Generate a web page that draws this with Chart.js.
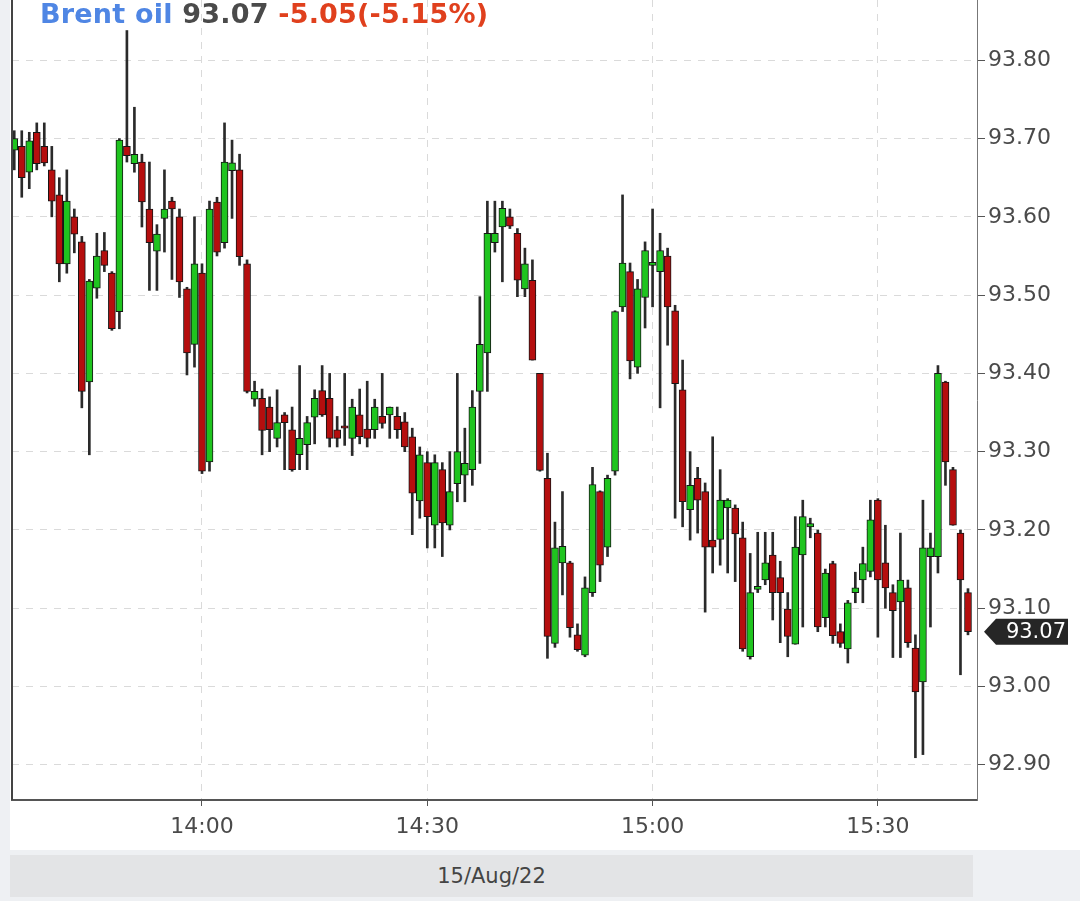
<!DOCTYPE html>
<html>
<head>
<meta charset="utf-8">
<script src="https://cdn.jsdelivr.net/npm/chart.js@4.4.1/dist/chart.umd.min.js"></script>
<style>
body { margin: 0; width: 1080px; height: 901px; overflow: hidden; position: relative; background: #eef0f3; font-family: "DejaVu Sans", sans-serif; }
#painel { position: absolute; left: 0; top: 0; width: 1080px; height: 850px; background: linear-gradient(to right, #eef0f3 10px, #ffffff 10px); }
#titulo { position: absolute; left: 40px; top: -2px; font-size: 27px; font-weight: bold; white-space: nowrap; letter-spacing: 0.2px; }
#rodape { position: absolute; left: 10px; top: 855px; width: 963px; height: 42px; background: #e3e4e6; color: #444; font-size: 21px; line-height: 42px; text-align: center; }
</style>
</head>
<body>
<div id="painel"><canvas id="grafico" width="1080" height="850"></canvas></div>
<div id="titulo"><span style="color:#4f86e4">Brent oil</span> <span style="color:#4a4a4a">93.07</span> <span style="color:#e0401d">-5.05(-5.15%)</span></div>
<div id="rodape">15/Aug/22</div>
<script>
var Horarios = [
    '13:35','13:36','13:37','13:38','13:39','13:40','13:41','13:42','13:43','13:44',
    '13:45','13:46','13:47','13:48','13:49','13:50','13:51','13:52','13:53','13:54',
    '13:55','13:56','13:57','13:58','13:59','14:00','14:01','14:02','14:03','14:04',
    '14:05','14:06','14:07','14:08','14:09','14:10','14:11','14:12','14:13','14:14',
    '14:15','14:16','14:17','14:18','14:19','14:20','14:21','14:22','14:23','14:24',
    '14:25','14:26','14:27','14:28','14:29','14:30','14:31','14:32','14:33','14:34',
    '14:35','14:36','14:37','14:38','14:39','14:40','14:41','14:42','14:43','14:44',
    '14:45','14:46','14:47','14:48','14:49','14:50','14:51','14:52','14:53','14:54',
    '14:55','14:56','14:57','14:58','14:59','15:00','15:01','15:02','15:03','15:04',
    '15:05','15:06','15:07','15:08','15:09','15:10','15:11','15:12','15:13','15:14',
    '15:15','15:16','15:17','15:18','15:19','15:20','15:21','15:22','15:23','15:24',
    '15:25','15:26','15:27','15:28','15:29','15:30','15:31','15:32','15:33','15:34',
    '15:35','15:36','15:37','15:38','15:39','15:40','15:41','15:42'
];

var Abertura = [
    93.685, 93.69, 93.657, 93.708, 93.69, 93.66, 93.628, 93.54, 93.60, 93.568,
    93.389, 93.509, 93.557, 93.528, 93.479, 93.69, 93.668, 93.67, 93.61, 93.556,
    93.598, 93.62, 93.60, 93.508, 93.437, 93.528, 93.287, 93.619, 93.567, 93.659,
    93.66, 93.54, 93.367, 93.368, 93.357, 93.317, 93.347, 93.328, 93.296, 93.309,
    93.344, 93.378, 93.368, 93.328, 93.333, 93.317, 93.347, 93.329, 93.328, 93.345,
    93.347, 93.345, 93.338, 93.319, 93.237, 93.286, 93.206, 93.277, 93.206, 93.259,
    93.27, 93.277, 93.377, 93.426, 93.567, 93.587, 93.60, 93.579, 93.508, 93.519,
    93.40, 93.266, 93.055, 93.158, 93.158, 93.066, 93.04, 93.12, 93.249, 93.178,
    93.275, 93.485, 93.53, 93.408, 93.497, 93.538, 93.53, 93.55, 93.48, 93.379,
    93.226, 93.266, 93.249, 93.187, 93.188, 93.228, 93.228, 93.19, 93.038, 93.124,
    93.136, 93.168, 93.139, 93.099, 93.054, 93.168, 93.204, 93.196, 93.088, 93.157,
    93.07, 93.048, 93.12, 93.136, 93.147, 93.238, 93.158, 93.12, 93.108, 93.126,
    93.049, 93.006, 93.166, 93.166, 93.389, 93.277, 93.196, 93.12
];

var Maxima = [
    93.71, 93.71, 93.708, 93.72, 93.72, 93.69, 93.65, 93.66, 93.61, 93.575,
    93.52, 93.579, 93.58, 93.53, 93.70, 93.838, 93.74, 93.68, 93.67, 93.59,
    93.66, 93.625, 93.61, 93.51, 93.60, 93.54, 93.62, 93.625, 93.72, 93.698,
    93.68, 93.545, 93.39, 93.38, 93.37, 93.379, 93.35, 93.357, 93.41, 93.345,
    93.379, 93.41, 93.40, 93.345, 93.40, 93.367, 93.38, 93.39, 93.367, 93.40,
    93.357, 93.357, 93.35, 93.33, 93.306, 93.30, 93.296, 93.286, 93.30, 93.40,
    93.33, 93.378, 93.498, 93.62, 93.62, 93.62, 93.61, 93.585, 93.56, 93.545,
    93.40, 93.298, 93.21, 93.249, 93.16, 93.08, 93.14, 93.28, 93.25, 93.27,
    93.48, 93.628, 93.541, 93.52, 93.568, 93.61, 93.579, 93.56, 93.487, 93.417,
    93.30, 93.28, 93.26, 93.319, 93.277, 93.24, 93.232, 93.21, 93.17, 93.197,
    93.197, 93.197, 93.16, 93.12, 93.217, 93.238, 93.215, 93.20, 93.15, 93.16,
    93.08, 93.11, 93.146, 93.178, 93.238, 93.24, 93.206, 93.13, 93.196, 93.136,
    93.066, 93.238, 93.196, 93.41, 93.39, 93.28, 93.20, 93.125
];

var Minima = [
    93.66, 93.625, 93.636, 93.66, 93.665, 93.60, 93.517, 93.528, 93.554, 93.356,
    93.296, 93.496, 93.53, 93.455, 93.457, 93.67, 93.657, 93.587, 93.506, 93.506,
    93.555, 93.52, 93.497, 93.398, 93.408, 93.272, 93.275, 93.55, 93.56, 93.598,
    93.538, 93.375, 93.358, 93.296, 93.30, 93.306, 93.277, 93.275, 93.277, 93.277,
    93.31, 93.345, 93.306, 93.306, 93.308, 93.295, 93.31, 93.306, 93.317, 93.33,
    93.317, 93.317, 93.30, 93.194, 93.215, 93.177, 93.177, 93.166, 93.20, 93.236,
    93.236, 93.257, 93.285, 93.377, 93.555, 93.517, 93.585, 93.498, 93.498, 93.417,
    93.275, 93.036, 93.05, 93.117, 93.063, 93.045, 93.038, 93.115, 93.134, 93.166,
    93.27, 93.479, 93.393, 93.40, 93.458, 93.485, 93.356, 93.436, 93.215, 93.204,
    93.187, 93.196, 93.095, 93.145, 93.155, 93.145, 93.134, 93.045, 93.035, 93.12,
    93.13, 93.085, 93.056, 93.038, 93.054, 93.076, 93.19, 93.07, 93.076, 93.055,
    93.05, 93.03, 93.107, 93.107, 93.14, 93.063, 93.10, 93.037, 93.037, 93.05,
    92.909, 92.913, 93.076, 93.145, 93.257, 93.206, 93.015, 93.066
];

var Fechamento = [
    93.70, 93.65, 93.697, 93.668, 93.669, 93.62, 93.54, 93.62, 93.578, 93.377,
    93.518, 93.55, 93.538, 93.457, 93.698, 93.678, 93.68, 93.619, 93.567, 93.578,
    93.61, 93.61, 93.517, 93.426, 93.54, 93.275, 93.61, 93.555, 93.67, 93.669,
    93.549, 93.377, 93.377, 93.327, 93.328, 93.337, 93.337, 93.277, 93.317, 93.337,
    93.368, 93.347, 93.317, 93.317, 93.33, 93.357, 93.319, 93.317, 93.357, 93.336,
    93.357, 93.328, 93.306, 93.247, 93.296, 93.217, 93.286, 93.209, 93.249, 93.30,
    93.285, 93.357, 93.437, 93.579, 93.579, 93.611, 93.588, 93.519, 93.54, 93.417,
    93.276, 93.064, 93.177, 93.179, 93.075, 93.047, 93.126, 93.258, 93.155, 93.266,
    93.479, 93.541, 93.416, 93.508, 93.557, 93.542, 93.557, 93.485, 93.387, 93.236,
    93.257, 93.238, 93.178, 93.178, 93.238, 93.238, 93.195, 93.048, 93.12, 93.128,
    93.158, 93.12, 93.12, 93.064, 93.178, 93.217, 93.208, 93.076, 93.145, 93.065,
    93.055, 93.107, 93.126, 93.157, 93.213, 93.136, 93.126, 93.097, 93.136, 93.056,
    92.993, 93.177, 93.177, 93.40, 93.287, 93.206, 93.136, 93.07
];

var TicksPreco = [92.90, 93.00, 93.10, 93.20, 93.30, 93.40, 93.50, 93.60, 93.70, 93.80];
var TicksHora = ['14:00', '14:30', '15:00', '15:30'];
var UltimoPreco = 93.07;

var CorAlta = '#1fc41f';
var CorBaixa = '#b50e0e';
var FonteEixo = { family: 'DejaVu Sans', size: 22 };

// minutos contados a partir das 14:00
function Minutos(h) {
    var p = h.split(':');
    return parseInt(p[0]) * 60 + parseInt(p[1]) - 14 * 60;
}

function FormatarHora(v) {
    var t = 14 * 60 + v;
    var m = t % 60;
    return Math.floor(t / 60) + ':' + (m < 10 ? '0' + m : m);
}

var Pavios = [];
var Corpos = [];
var Cores = [];
for (var i = 0; i < Horarios.length; i++) {
    Pavios[i] = { x: Minutos(Horarios[i]), y: [Minima[i], Maxima[i]] };
    Corpos[i] = { x: Minutos(Horarios[i]), y: [Abertura[i], Fechamento[i]] };
    Cores[i] = Fechamento[i] >= Abertura[i] ? CorAlta : CorBaixa;
}

var Moldura = {
    id: 'moldura',
    afterDraw: function (chart) {
        var ctx = chart.ctx;
        var a = chart.chartArea;
        ctx.save();
        // linha da esquerda
        ctx.strokeStyle = '#444';
        ctx.lineWidth = 2;
        ctx.beginPath();
        ctx.moveTo(a.left, a.top);
        ctx.lineTo(a.left, a.bottom);
        ctx.stroke();

        // marcador do ultimo preco
        var y = chart.scales.y.getPixelForValue(UltimoPreco);
        var x0 = a.right + 7;
        ctx.fillStyle = '#262626';
        ctx.beginPath();
        ctx.moveTo(x0, y);
        ctx.lineTo(x0 + 12, y - 13);
        ctx.lineTo(1068, y - 13);
        ctx.lineTo(1068, y + 13);
        ctx.lineTo(x0 + 12, y + 13);
        ctx.closePath();
        ctx.fill();
        ctx.fillStyle = '#ffffff';
        ctx.font = '21px "DejaVu Sans"';
        ctx.textBaseline = 'middle';
        ctx.textAlign = 'right';
        ctx.fillText(UltimoPreco.toFixed(2), 1066, y + 1);
        ctx.restore();
    }
};

new Chart(document.getElementById('grafico'), {
    type: 'bar',
    data: {
        datasets: [{
            label: 'Pavio',
            data: Pavios,
            backgroundColor: '#2a2a2a',
            barThickness: 2,
            grouped: false,
            order: 2
        }, {
            label: 'Corpo',
            data: Corpos,
            backgroundColor: Cores,
            borderColor: '#151515',
            borderWidth: 1,
            borderSkipped: false,
            barThickness: 7,
            grouped: false,
            order: 1
        }]
    },
    options: {
        responsive: false,
        animation: false,
        layout: { padding: { left: 12, top: 0, right: 0, bottom: 0 } },
        plugins: { legend: { display: false }, tooltip: { enabled: false } },
        scales: {
            x: {
                type: 'linear',
                min: -25.3,
                max: 103.2,
                offset: false,
                grid: { offset: false, color: '#dadada', tickColor: '#555', tickLength: 6 },
                border: { color: '#555', width: 2, dash: [7, 7] },
                ticks: { font: FonteEixo, color: '#4a4a4a', padding: 8, maxRotation: 0, autoSkip: false, callback: FormatarHora },
                afterBuildTicks: function (s) { s.ticks = TicksHora.map(function (h) { return { value: Minutos(h) }; }); },
                afterFit: function (s) { s.height = 50; s.paddingLeft = 0; s.paddingRight = 0; }
            },
            y: {
                type: 'linear',
                position: 'right',
                min: 92.855,
                max: 93.877,
                grid: { color: '#dadada', tickColor: '#555', tickLength: 8 },
                border: { color: '#777', width: 1, dash: [7, 7] },
                ticks: { font: FonteEixo, color: '#4a4a4a', padding: 3, callback: function (v) { return v.toFixed(2); } },
                afterBuildTicks: function (s) { s.ticks = TicksPreco.map(function (v) { return { value: v }; }); },
                afterFit: function (s) { s.width = 103; s.paddingTop = 0; s.paddingBottom = 0; }
            }
        }
    },
    plugins: [Moldura]
});
</script>
</body>
</html>
